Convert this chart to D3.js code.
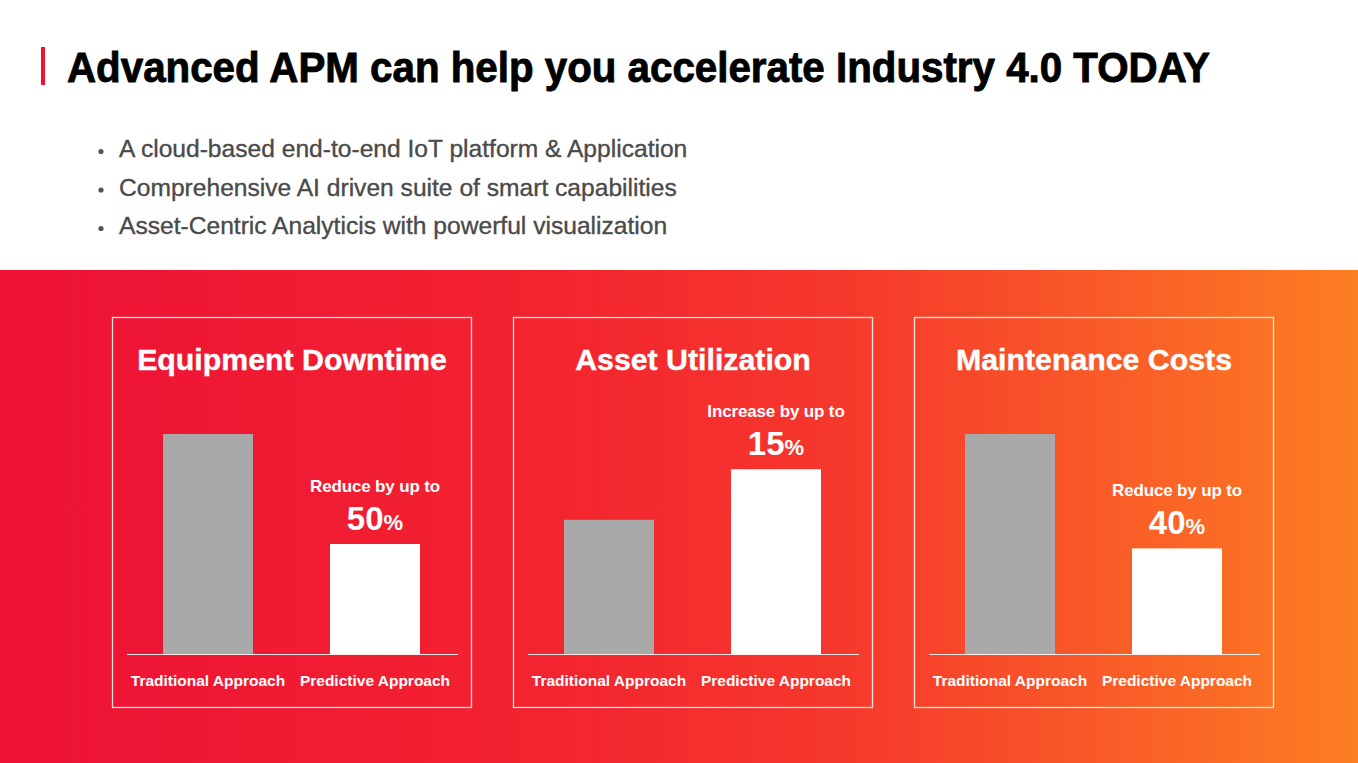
<!DOCTYPE html>
<html>
<head>
<meta charset="utf-8">
<script src="https://cdn.jsdelivr.net/npm/d3@7"></script>
<style>
  html, body { margin: 0; padding: 0; background: #fff; }
  svg { display: block; font-family: "Liberation Sans", Arial, Helvetica, sans-serif; }
</style>
</head>
<body>
<svg id="chart" width="1358" height="763"></svg>
<script>
const titleText = "Advanced APM can help you accelerate Industry 4.0 TODAY";
const bullets = [
  "A cloud-based end-to-end IoT platform & Application",
  "Comprehensive AI driven suite of smart capabilities",
  "Asset-Centric Analyticis with powerful visualization"
];
const panelTitles = ["Equipment Downtime", "Asset Utilization", "Maintenance Costs"];
const categories = ["Traditional Approach", "Predictive Approach"];
const traditional = [100, 61, 100];
const predictive = [50, 84, 48];
const annotationLabels = ["Reduce by up to", "Increase by up to", "Reduce by up to"];
const annotationPct = ["50", "15", "40"];

const W = 1358, H = 763;
const svg = d3.select("#chart");
const defs = svg.append("defs");

const grad = defs.append("linearGradient").attr("id", "bandGrad")
  .attr("x1", "0%").attr("y1", "0%").attr("x2", "100%").attr("y2", "0%");
[["0%", "#ED1136"], ["40%", "#F3232F"], ["62%", "#F6382C"], ["80%", "#F95828"], ["100%", "#FD7E22"]]
  .forEach(([o, c]) => grad.append("stop").attr("offset", o).attr("stop-color", c));

// Header
svg.append("rect").attr("x", 41).attr("y", 47).attr("width", 4).attr("height", 38).attr("fill", "#EC1534");
svg.append("text").attr("x", 67).attr("y", 82)
  .attr("font-size", 43).attr("font-weight", "bold").attr("fill", "#000")
  .attr("stroke", "#000").attr("stroke-width", 0.9)
  .attr("textLength", 1143).attr("lengthAdjust", "spacingAndGlyphs")
  .text(titleText);

const bulletG = svg.append("g");
bullets.forEach((b, i) => {
  const y = 157 + i * 38.5;
  bulletG.append("circle").attr("cx", 101).attr("cy", y - 5.5).attr("r", 2.6).attr("fill", "#555");
  bulletG.append("text").attr("x", 119).attr("y", y)
    .attr("font-size", 24.6).attr("fill", "#4a4a4a")
    .attr("stroke", "#4a4a4a").attr("stroke-width", 0.35)
    .text(b);
});

// Band
svg.append("rect").attr("x", 0).attr("y", 270).attr("width", W).attr("height", H - 270).attr("fill", "url(#bandGrad)");

// Panels
const panelX = d3.scaleBand().domain(panelTitles).range([112, 1274]).paddingInner(41 / 401);
const panelTop = 317, panelH = 391;
const y = d3.scaleLinear().domain([0, 100]).range([654, 434]);
const x = d3.scaleBand().domain(categories).range([51, 308]).paddingInner(0.461).paddingOuter(0);

panelTitles.forEach((t, i) => {
  const g = svg.append("g").attr("transform", `translate(${panelX(t)},0)`);
  const pw = panelX.bandwidth();
  g.append("rect").attr("x", 0.5).attr("y", panelTop + 0.5).attr("width", pw - 1).attr("height", panelH - 1)
    .attr("fill", "none").attr("stroke", "#fff").attr("stroke-opacity", 0.85).attr("stroke-width", 1.3);
  g.append("text").attr("x", pw / 2).attr("y", 370).attr("text-anchor", "middle")
    .attr("font-size", 30.3).attr("font-weight", "bold").attr("fill", "#fff")
    .attr("stroke", "#fff").attr("stroke-width", 0.4)
    .text(t);

  const vals = [traditional[i], predictive[i]];
  g.selectAll("rect.bar").data(categories).join("rect").attr("class", "bar")
    .attr("x", d => x(d)).attr("width", x.bandwidth())
    .attr("y", (d, j) => y(vals[j])).attr("height", (d, j) => y(0) - y(vals[j]))
    .attr("fill", (d, j) => j === 0 ? "#A9A9A9" : "#FFFFFF");

  g.append("line").attr("x1", 15).attr("x2", 346).attr("y1", y(0) + 0.5).attr("y2", y(0) + 0.5)
    .attr("stroke", "#fff").attr("stroke-opacity", 0.9).attr("stroke-width", 1.2);

  g.selectAll("text.cat").data(categories).join("text").attr("class", "cat")
    .attr("x", d => x(d) + x.bandwidth() / 2).attr("y", 686).attr("text-anchor", "middle")
    .attr("font-size", 15.5).attr("font-weight", "bold").attr("fill", "#fff")
    .text(d => d);

  const cx = x(categories[1]) + x.bandwidth() / 2;
  const top = y(predictive[i]);
  g.append("text").attr("x", cx).attr("y", top - 52).attr("text-anchor", "middle")
    .attr("font-size", 17).attr("font-weight", "bold").attr("fill", "#fff").attr("letter-spacing", -0.15)
    .text(annotationLabels[i]);
  const pt = g.append("text").attr("x", cx).attr("y", top - 14).attr("text-anchor", "middle")
    .attr("font-weight", "bold").attr("fill", "#fff");
  pt.append("tspan").attr("font-size", 33).text(annotationPct[i]);
  pt.append("tspan").attr("font-size", 22).text("%");
});
</script>
</body>
</html>
